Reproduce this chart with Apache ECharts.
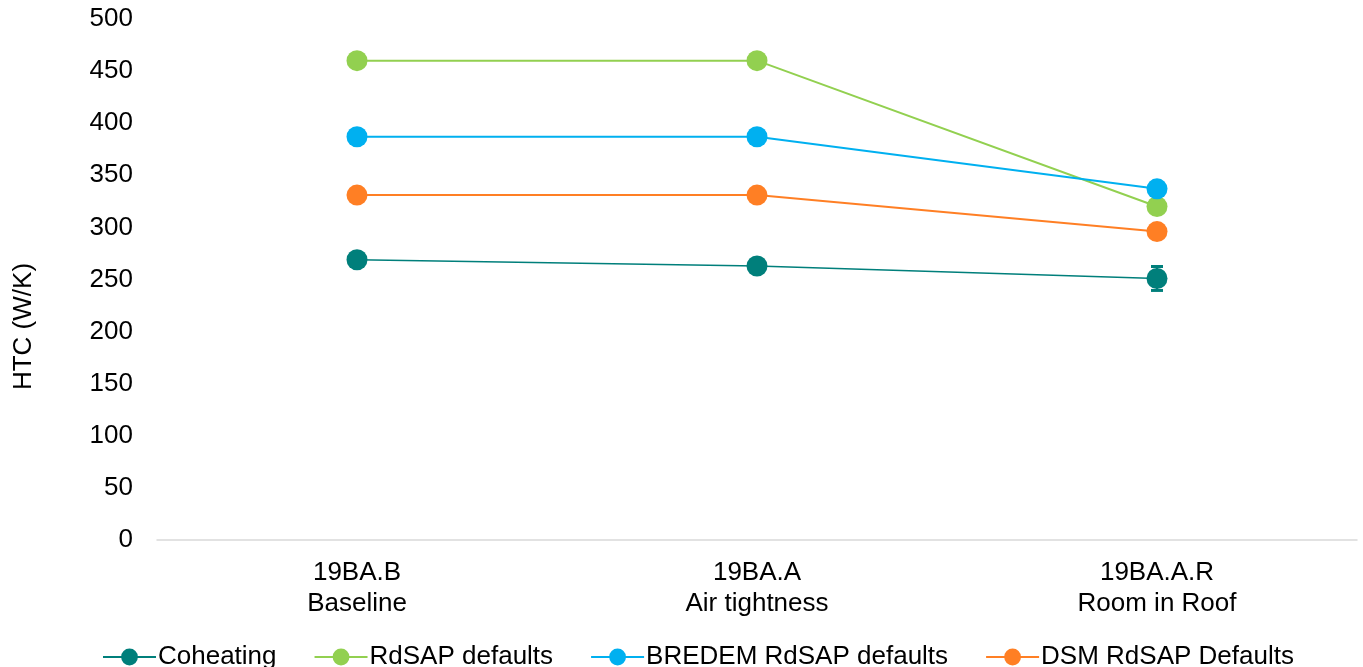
<!DOCTYPE html>
<html>
<head>
<meta charset="utf-8">
<script src="https://cdn.jsdelivr.net/npm/echarts@6/dist/echarts.min.js"></script>
<style>html,body{margin:0;padding:0;background:#fff}#c{width:1363px;height:667px}</style>
</head>
<body>
<div id="c"></div>
<script>
var categories = ['19BA.B\nBaseline', '19BA.A\nAir tightness', '19BA.A.R\nRoom in Roof'];
var coheating = [269, 263, 251];
var coheatingErr = [null, null, 11.5];
var rdsap = [460, 460, 320];
var bredem = [387, 387, 337];
var dsm = [331, 331, 296];
var yTicks = {min: 0, max: 500, interval: 50};

var teal = '#007F7B', green = '#92D050', blue = '#00B0F0', orange = '#FF7F24';
var font = 'Liberation Sans, Arial, sans-serif';
var fs = 26;

var errData = [];
coheatingErr.forEach(function (e, i) {
  if (e != null) errData.push([i, coheating[i] - e, coheating[i] + e]);
});

var chart = echarts.init(document.getElementById('c'));
function lineSeries(name, data, color, width) {
  return {
    name: name, type: 'line', data: data,
    symbol: 'circle', symbolSize: 21,
    itemStyle: {color: color},
    lineStyle: {color: color, width: width},
    z: 3
  };
}
chart.setOption({
  animation: false,
  grid: {left: 157, right: 6, top: 19, bottom: 127, containLabel: false},
  legend: {
    top: 639, left: 97, itemGap: 37, itemWidth: 53, itemHeight: 21,
    textStyle: {fontSize: fs, color: '#000', fontFamily: font, padding: [0, 0, 0, -3]},
    data: ['Coheating', 'RdSAP defaults', 'BREDEM RdSAP defaults', 'DSM RdSAP Defaults']
  },
  xAxis: {
    type: 'category', data: categories, boundaryGap: true,
    axisLine: {lineStyle: {color: '#d9d9d9', width: 1.5}},
    axisTick: {show: false},
    axisLabel: {fontSize: fs, color: '#000', fontFamily: font, lineHeight: 31, margin: 17}
  },
  yAxis: {
    type: 'value', min: yTicks.min, max: yTicks.max, interval: yTicks.interval,
    name: 'HTC (W/K)', nameLocation: 'middle', nameGap: 120,
    nameTextStyle: {fontSize: fs, color: '#000', fontFamily: font, padding: [0, 94, 0, 0]},
    axisLine: {show: false}, axisTick: {show: false}, splitLine: {show: false},
    axisLabel: {fontSize: fs, color: '#000', fontFamily: font, margin: 24}
  },
  series: [
    lineSeries('Coheating', coheating, teal, 1.5),
    lineSeries('RdSAP defaults', rdsap, green, 2),
    lineSeries('BREDEM RdSAP defaults', bredem, blue, 2),
    lineSeries('DSM RdSAP Defaults', dsm, orange, 2),
    {
      type: 'custom', name: 'err', data: errData, z: 2,
      renderItem: function (params, api) {
        var x = api.value(0);
        var lo = api.coord([x, api.value(1)]);
        var hi = api.coord([x, api.value(2)]);
        var hw = 6;
        var st = {stroke: teal, lineWidth: 2};
        return {type: 'group', children: [
          {type: 'line', shape: {x1: lo[0], y1: lo[1], x2: hi[0], y2: hi[1]}, style: st},
          {type: 'line', shape: {x1: lo[0] - hw, y1: lo[1], x2: lo[0] + hw, y2: lo[1]}, style: {stroke: teal, lineWidth: 3}},
          {type: 'line', shape: {x1: hi[0] - hw, y1: hi[1], x2: hi[0] + hw, y2: hi[1]}, style: {stroke: teal, lineWidth: 3}}
        ]};
      }
    }
  ]
});
</script>
</body>
</html>
